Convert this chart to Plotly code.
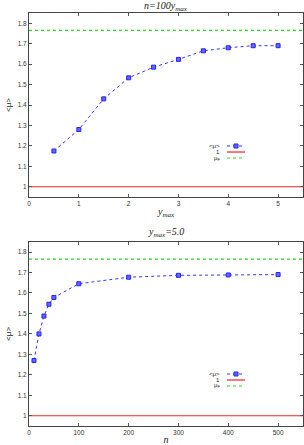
import plotly.graph_objects as go

# top panel: n = 100 * y_max
ymax_vals = [0.5, 1.0, 1.5, 2.0, 2.5, 3.0, 3.5, 4.0, 4.5, 5.0]
mu_top = [1.175, 1.28, 1.43, 1.533, 1.585, 1.623, 1.665, 1.68, 1.69, 1.69]

# bottom panel: y_max = 5.0
n_vals = [10, 20, 30, 40, 50, 100, 200, 300, 400, 500]
mu_bot = [1.27, 1.40, 1.487, 1.545, 1.578, 1.645, 1.677, 1.686, 1.688, 1.69]

one_level = 1.0
mu_F = 1.765

xr_top = [0, 5.5]
xr_bot = [0, 550]

legend_names = ["<μ>", "1", "μ<sub>F</sub>"]

fig = go.Figure()

blue = "#3333ff"
red = "#ee2222"
green = "#22dd22"
colors = [blue, red, green]
dashes = ["dot", "solid", "dot"]

def add_panel(xs, ys, xr, xaxis, yaxis):
    fig.add_trace(go.Scatter(x=xs, y=ys, mode="lines+markers", name=legend_names[0],
                             line=dict(color=blue, width=1, dash="dot"),
                             marker=dict(symbol="square", size=4, color="#6666ff",
                                         line=dict(color="#2222ff", width=1)),
                             xaxis=xaxis, yaxis=yaxis, showlegend=False))
    fig.add_trace(go.Scatter(x=xr, y=[one_level, one_level], mode="lines", name=legend_names[1],
                             line=dict(color=red, width=1.2),
                             xaxis=xaxis, yaxis=yaxis, showlegend=False))
    fig.add_trace(go.Scatter(x=xr, y=[mu_F, mu_F], mode="lines", name=legend_names[2],
                             line=dict(color=green, width=1.2, dash="dot"),
                             xaxis=xaxis, yaxis=yaxis, showlegend=False))

add_panel(ymax_vals, mu_top, xr_top, "x", "y")
add_panel(n_vals, mu_bot, xr_bot, "x2", "y2")

# compact gnuplot-style key (text left of sample), paper coords
shapes = []
annotations = []
legend_font = dict(family="Liberation Sans, sans-serif", size=6, color="#222")
for rows in ([0.6780, 0.6634, 0.6489], [0.1259, 0.1114, 0.0969]):
    for i, yy in enumerate(rows):
        annotations.append(dict(text=legend_names[i], xref="paper", yref="paper",
                                x=0.706, y=yy, xanchor="right", yanchor="middle",
                                showarrow=False, font=legend_font))
        shapes.append(dict(type="line", xref="paper", yref="paper",
                           x0=0.7226, x1=0.7883, y0=yy, y1=yy,
                           line=dict(color=colors[i], width=1.2 if i else 1, dash=dashes[i])))
        if i == 0:
            shapes.append(dict(type="rect", xref="paper", yref="paper",
                               xsizemode="pixel", ysizemode="pixel",
                               xanchor=0.7555, yanchor=yy, x0=-2, x1=2, y0=-2, y1=2,
                               fillcolor="#6666ff", line=dict(color="#2222ff", width=1)))

tickfont = dict(family="Liberation Sans, Arial, sans-serif", size=6.5, color="#333333")
axis_common = dict(showline=True, linecolor="#444444", linewidth=1, mirror="ticks",
                   ticks="inside", ticklen=3, tickcolor="#555555", showgrid=False,
                   zeroline=False, tickfont=tickfont, automargin=False)
titlefont = dict(family="Liberation Serif, Times New Roman, serif", size=10, color="#222222")
ytitlefont = dict(family="Liberation Sans, sans-serif", size=8, color="#222")

fig.update_layout(
    width=304, height=445,
    margin=dict(l=29, r=1, t=13, b=19),
    paper_bgcolor="white", plot_bgcolor="white",
    xaxis=dict(domain=[0, 1], anchor="y", range=xr_top, dtick=1, **axis_common,
               title=dict(text="<i>y<sub>max</sub></i>", font=titlefont, standoff=2)),
    yaxis=dict(domain=[0.5545, 1], anchor="x", range=[0.95, 1.85], dtick=0.1, **axis_common,
               title=dict(text="<μ>", font=ytitlefont, standoff=4)),
    xaxis2=dict(domain=[0, 1], anchor="y2", range=xr_bot, dtick=100, **axis_common,
                title=dict(text="<i>n</i>", font=titlefont, standoff=2)),
    yaxis2=dict(domain=[0, 0.446], anchor="x2", range=[0.95, 1.85], dtick=0.1, **axis_common,
                title=dict(text="<μ>", font=ytitlefont, standoff=4)),
    shapes=shapes,
    annotations=annotations + [
        dict(text="<i>n=100y<sub>max</sub></i>", xref="paper", yref="paper", x=0.5, y=1.0,
             yanchor="bottom", showarrow=False, font=titlefont, yshift=-2),
        dict(text="<i>y<sub>max</sub>=5.0</i>", xref="paper", yref="paper", x=0.5, y=0.446,
             yanchor="bottom", showarrow=False, font=titlefont, yshift=1),
    ],
)

fig.write_html("out.html", config={"displayModeBar": False},
               post_script="document.body.style.margin='0';")
